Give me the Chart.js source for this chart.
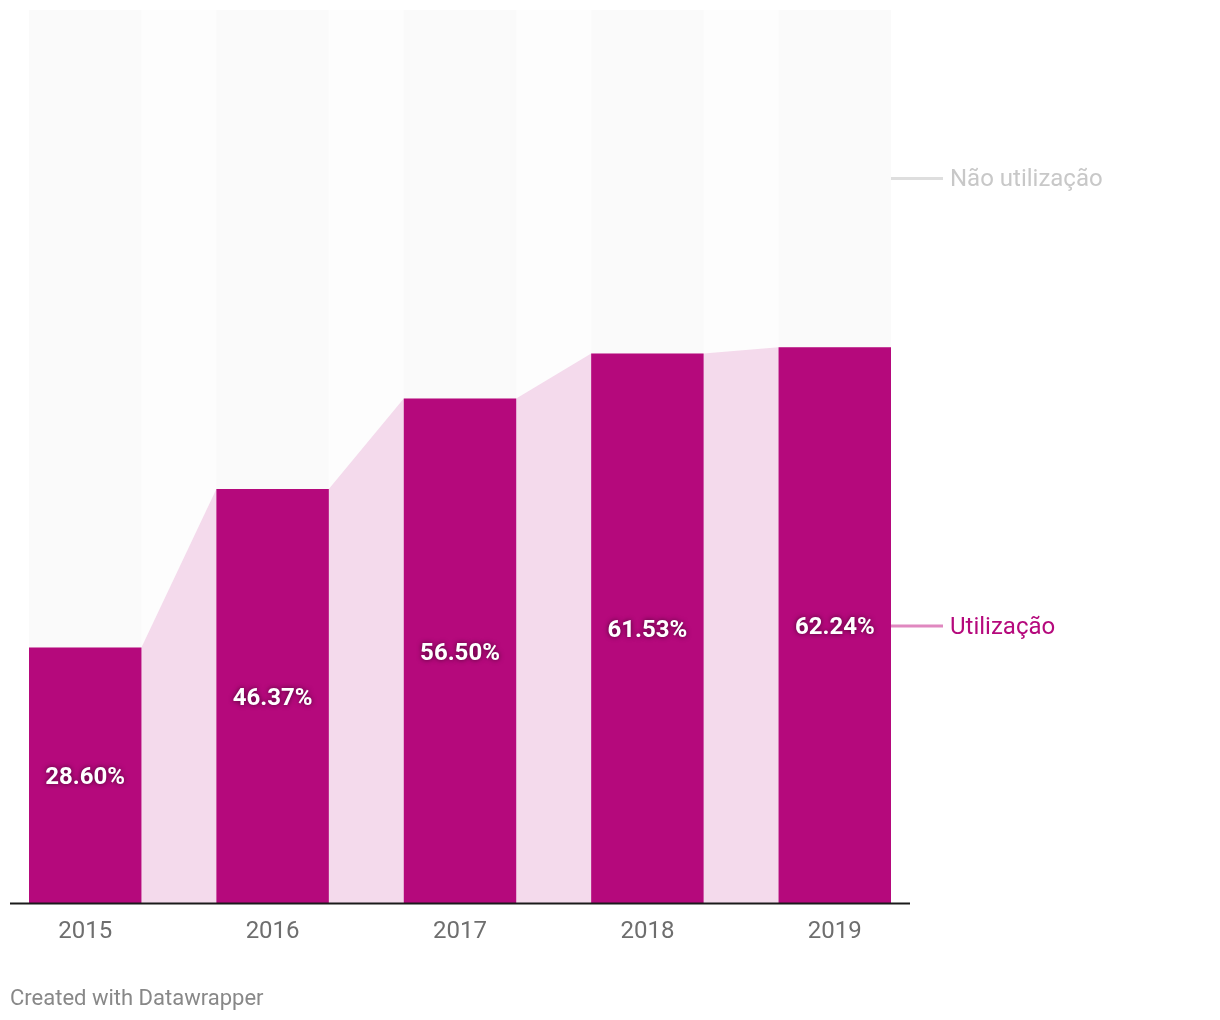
<!DOCTYPE html>
<html>
<head>
<meta charset="utf-8">
<script src="https://cdn.jsdelivr.net/npm/chart.js@4.4.1/dist/chart.umd.min.js"></script>
<style>
  html, body { margin: 0; padding: 0; background: #fff; }
  #wrap { position: relative; width: 1220px; height: 1020px; }
  #footer { position: absolute; left: 10px; top: 985px; font: 22px Roboto, sans-serif; color: #888; }
</style>
</head>
<body>
<div id="wrap">
  <canvas id="c" width="1220" height="1020"></canvas>
  <div id="footer">Created with Datawrapper</div>
</div>
<script>
const years = ['2015', '2016', '2017', '2018', '2019'];
const usage = [28.60, 46.37, 56.50, 61.53, 62.24];
const nonUsage = usage.map(v => +(100 - v).toFixed(2));
const seriesNames = ['Utilização', 'Não utilização'];

const HALF = 0.3; // half bar width in category units (bar = 60% of category)
const BAR_COLOR = '#b5097c';
const AREA_COLOR = '#f4daec';
const TOP_COLOR = '#fafafa';

const barUse = usage.map((v, i) => ({ x: i, y: v }));
const barNon = nonUsage.map((v, i) => ({ x: i, y: v }));
const areaPts = [];
usage.forEach((v, i) => { areaPts.push({ x: i - HALF, y: v }); areaPts.push({ x: i + HALF, y: v }); });
const bgPts = [{ x: -HALF, y: 100 }, { x: years.length - 1 + HALF, y: 100 }];

const overlay = {
  id: 'overlay',
  afterDatasetsDraw(chart) {
    const ctx = chart.ctx;
    const xs = chart.scales.x, ys = chart.scales.y;
    const ca = chart.chartArea;
    // baseline
    ctx.save();
    ctx.strokeStyle = '#1a1a1a';
    ctx.lineWidth = 2;
    ctx.beginPath();
    ctx.moveTo(ca.left - 19, ys.getPixelForValue(0) + 0.5);
    ctx.lineTo(ca.right + 19, ys.getPixelForValue(0) + 0.5);
    ctx.stroke();
    ctx.restore();
    // value labels
    ctx.save();
    ctx.font = 'bold 24px Roboto';
    ctx.textAlign = 'center';
    ctx.textBaseline = 'middle';
    ctx.fillStyle = '#fff';
    ctx.shadowColor = 'rgba(0,0,0,0.6)';
    ctx.shadowBlur = 5;
    usage.forEach((v, i) => {
      const x = xs.getPixelForValue(i);
      const y = (ys.getPixelForValue(0) + ys.getPixelForValue(v)) / 2;
      ctx.fillText(v.toFixed(2) + '%', x, y + 3);
    });
    ctx.restore();
    // direct legend labels at last bar
    const last = usage.length - 1;
    const vU = usage[last];
    const yU = (ys.getPixelForValue(0) + ys.getPixelForValue(vU)) / 2;
    const yN = (ys.getPixelForValue(vU) + ys.getPixelForValue(100)) / 2;
    const entries = [
      { name: seriesNames[1], y: yN, dy: 1, line: '#dedede', text: '#c8c8c8' },
      { name: seriesNames[0], y: yU + 1, dy: 2, line: '#e088c0', text: BAR_COLOR }
    ];
    ctx.save();
    ctx.font = '24px Roboto';
    ctx.textBaseline = 'middle';
    ctx.textAlign = 'left';
    entries.forEach(e => {
      ctx.strokeStyle = e.line;
      ctx.lineWidth = 3;
      ctx.beginPath();
      ctx.moveTo(ca.right, e.y);
      ctx.lineTo(ca.right + 52, e.y);
      ctx.stroke();
      ctx.fillStyle = e.text;
      ctx.fillText(e.name, ca.right + 59, e.y + e.dy);
    });
    ctx.restore();
  }
};

new Chart(document.getElementById('c'), {
  data: {
    datasets: [
      { type: 'bar', label: seriesNames[0], data: barUse, backgroundColor: BAR_COLOR, stack: 's', order: 0,
        barPercentage: 0.6, categoryPercentage: 1 },
      { type: 'bar', label: seriesNames[1], data: barNon, backgroundColor: TOP_COLOR, stack: 's', order: 0,
        barPercentage: 0.6, categoryPercentage: 1 },
      { type: 'line', label: 'area', data: areaPts, backgroundColor: AREA_COLOR, borderWidth: 0,
        pointRadius: 0, fill: 'origin', tension: 0, order: 1 },
      { type: 'line', label: 'bg', data: bgPts, backgroundColor: '#fdfdfd', borderWidth: 0,
        pointRadius: 0, fill: 'origin', tension: 0, order: 2 }
    ]
  },
  options: {
    responsive: false,
    animation: false,
    layout: { padding: { left: 29, right: 329, top: 10, bottom: 73 } },
    plugins: { legend: { display: false }, tooltip: { enabled: false } },
    scales: {
      x: {
        type: 'linear',
        offset: false,
        min: -HALF, max: years.length - 1 + HALF,
        grid: { display: false, offset: false },
        border: { display: false },
        afterBuildTicks: axis => { axis.ticks = years.map((_, i) => ({ value: i })); },
        afterFit: axis => { axis.height = 44; },
        ticks: {
          padding: 7,
          color: '#6e6e6e',
          font: { family: 'Roboto', size: 24 },
          callback: v => years[v] ?? ''
        }
      },
      y: { display: false, min: 0, max: 100, stacked: true }
    }
  },
  plugins: [overlay]
});
</script>
</body>
</html>
